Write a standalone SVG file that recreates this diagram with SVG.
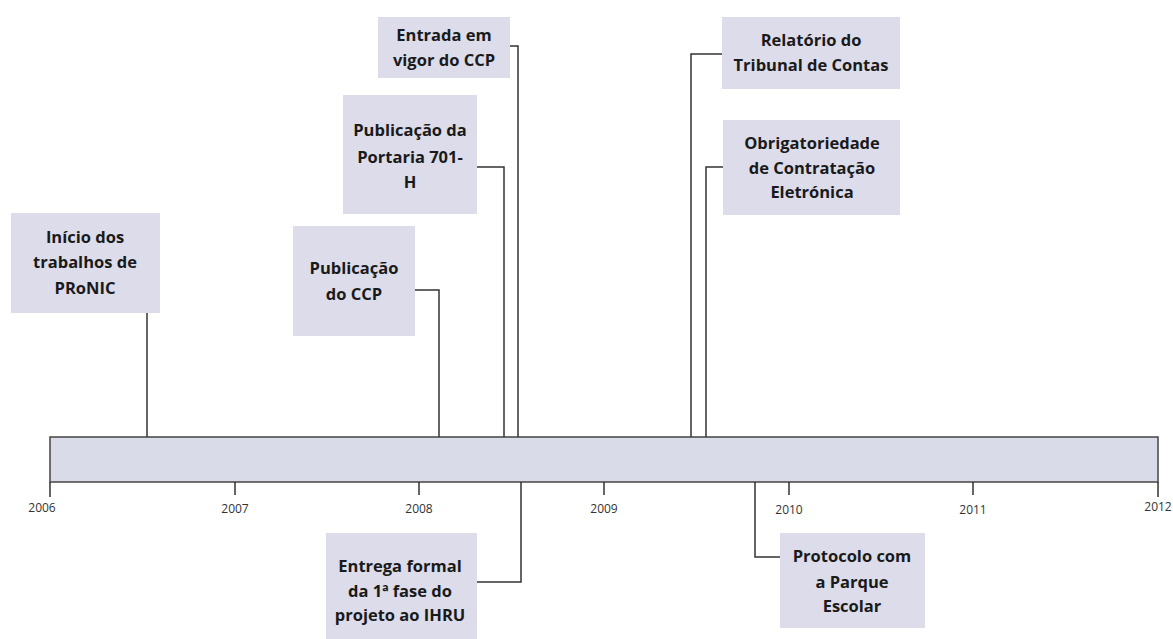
<svg xmlns="http://www.w3.org/2000/svg" width="1173" height="639" viewBox="0 0 1173 639">
<style>
.box{fill:#dcdcea}
.lbl{font-family:"Open Sans","Liberation Sans",sans-serif;font-weight:bold;font-size:16.5px;fill:#1a1a1a;text-anchor:middle}
.yr{font-family:"Open Sans","Liberation Sans",sans-serif;font-size:12px;fill:#333;text-anchor:middle}
.ln{fill:none;stroke:#333;stroke-width:1.5}
</style>
<rect width="1173" height="639" fill="#fff"/>
<g id="timeline">
<rect x="50" y="437" width="1108" height="45" fill="#dadbe9" stroke="#444" stroke-width="1.5"/>
<g class="ln">
<path d="M50 482V497M235 482V495M419 482V495M604 482V495M789 482V495M973 482V495M1158 482V497"/>
</g>
<text class="yr" x="42" y="512">2006</text>
<text class="yr" x="235" y="513">2007</text>
<text class="yr" x="419" y="513">2008</text>
<text class="yr" x="604" y="513">2009</text>
<text class="yr" x="789" y="514">2010</text>
<text class="yr" x="973" y="514">2011</text>
<text class="yr" x="1158" y="511">2012</text>
</g>
<g id="connectors" class="ln">
<path d="M147 313V437"/>
<path d="M415 290H439V437"/>
<path d="M477 167H504V437"/>
<path d="M510 46H518V437"/>
<path d="M477 582H521V482"/>
<path d="M722 54H691V437"/>
<path d="M723 167H706V437"/>
<path d="M755 482V557H780"/>
</g>
<g id="n1"><rect class="box" x="11" y="213" width="149" height="100"/>
<text class="lbl"><tspan x="85" y="243">Início dos</tspan><tspan x="85" y="268">trabalhos de</tspan><tspan x="85" y="294">PRoNIC</tspan></text></g>
<g id="n2"><rect class="box" x="293" y="226" width="122" height="110"/>
<text class="lbl"><tspan x="354" y="274">Publicação</tspan><tspan x="354" y="300">do CCP</tspan></text></g>
<g id="n3"><rect class="box" x="343" y="95" width="134" height="119"/>
<text class="lbl"><tspan x="410" y="136">Publicação da</tspan><tspan x="410" y="163">Portaria 701-</tspan><tspan x="410" y="188">H</tspan></text></g>
<g id="n4"><rect class="box" x="378" y="17" width="132" height="61"/>
<text class="lbl"><tspan x="444" y="41">Entrada em</tspan><tspan x="444" y="66">vigor do CCP</tspan></text></g>
<g id="n5"><rect class="box" x="326" y="533" width="151" height="106"/>
<text class="lbl"><tspan x="400" y="572">Entrega formal</tspan><tspan x="400" y="597">da 1ª fase do</tspan><tspan x="400" y="621">projeto ao IHRU</tspan></text></g>
<g id="n6"><rect class="box" x="722" y="17" width="178" height="72"/>
<text class="lbl"><tspan x="811" y="46">Relatório do</tspan><tspan x="811" y="71">Tribunal de Contas</tspan></text></g>
<g id="n7"><rect class="box" x="723" y="120" width="177" height="95"/>
<text class="lbl"><tspan x="812" y="149">Obrigatoriedade</tspan><tspan x="812" y="174">de Contratação</tspan><tspan x="812" y="198">Eletrónica</tspan></text></g>
<g id="n8"><rect class="box" x="780" y="533" width="145" height="95"/>
<text class="lbl"><tspan x="852" y="562">Protocolo com</tspan><tspan x="852" y="588">a Parque</tspan><tspan x="852" y="612">Escolar</tspan></text></g>
</svg>
